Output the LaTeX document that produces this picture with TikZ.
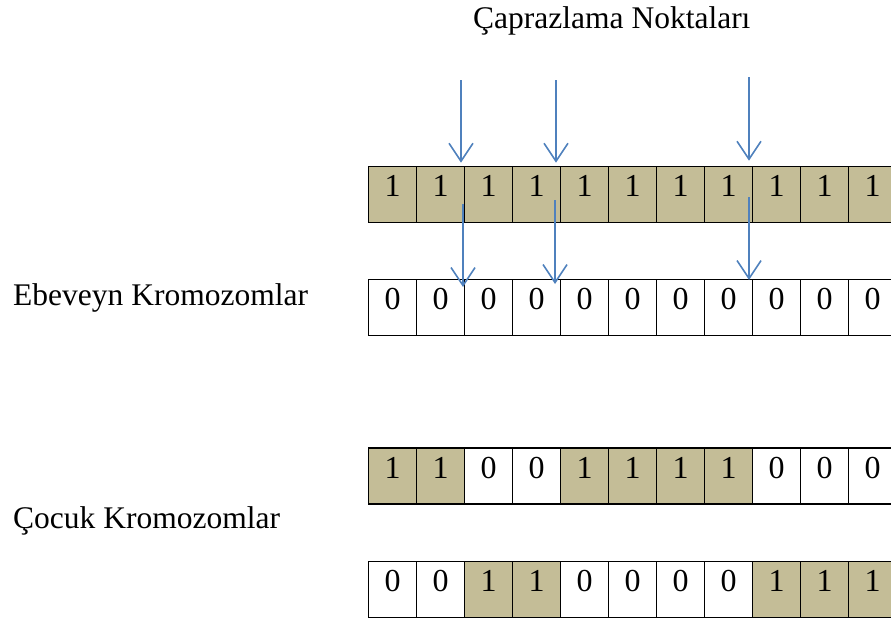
\documentclass[tikz,border=0pt]{standalone}
\usepackage{fontspec}
\setmainfont{Liberation Serif}
\usetikzlibrary{arrows.meta,calc}
\definecolor{gene}{HTML}{C4BD97}
\definecolor{cutblue}{HTML}{4F81BD}
\tikzset{
  cell/.style={draw=black, line width=1.4pt, rectangle, anchor=north west,
    minimum width=48pt, minimum height=56pt, inner sep=0pt,
    text height=30pt, text depth=26pt,
    font=\fontsize{32}{36}\selectfont},
  one/.style={cell, fill=gene},
  zero/.style={cell, fill=white},
  label/.style={anchor=base west, inner sep=0pt, font=\fontsize{31.5}{36}\selectfont},
  cut/.style={draw=cutblue, line width=1.6pt,
    -{Straight Barb[length=18pt,width=24pt,line width=1.6pt]}}
}
\begin{document}
\begin{tikzpicture}[x=1pt,y=-1pt]
  \useasboundingbox (0,0) rectangle (891,619);
  \clip (0,0) rectangle (891,619);

  % titles
  \node[label] (title) at (473,28) {Çaprazlama Noktaları};
  \node[label] (parents) at (13,305) {Ebeveyn Kromozomlar};
  \node[label] (children) at (13,528) {Çocuk Kromozomlar};

  % chromosome rows: each entry is style/value
  \foreach \row/\top/\genes in {
      a/165.7/{1,1,1,1,1,1,1,1,1,1,1},
      b/279/{0,0,0,0,0,0,0,0,0,0,0},
      c/447.3/{1,1,0,0,1,1,1,1,0,0,0},
      d/560.7/{0,0,1,1,0,0,0,0,1,1,1}} {
    \foreach \g [count=\i] in \genes {
      \ifnum\g=1
        \node[one] (\row\i) at ({368+48*(\i-1)},\top) {1};
      \else
        \node[zero] (\row\i) at ({368+48*(\i-1)},\top) {0};
      \fi
    }
  }

  % crossover points marked above the first parent
  \coordinate (s1) at (461,80);
  \coordinate (s2) at (556,80);
  \coordinate (s3) at (749,77);
  \coordinate (t1) at ($(s1 |- a2.north)+(0,-3)$);
  \coordinate (t2) at ($(s2 |- a4.north)+(0,-3)$);
  \coordinate (t3) at ($(s3 |- a8.north)+(0,-5)$);
  \draw[cut] (s1) -- (t1);
  \draw[cut] (s2) -- (t2);
  \draw[cut] (s3) -- (t3);

  % the same points carried down to the second parent
  \coordinate (u1) at (463,204);
  \coordinate (u2) at (555,200);
  \coordinate (u3) at (749,197);
  \coordinate (v1) at ($(u1 |- b2.north)+(0,8)$);
  \coordinate (v2) at ($(u2 |- b4.north)+(0,5)$);
  \coordinate (v3) at ($(u3 |- b8.north)+(0,1)$);
  \draw[cut] (u1) -- (v1);
  \draw[cut] (u2) -- (v2);
  \draw[cut] (u3) -- (v3);
\end{tikzpicture}
\end{document}
